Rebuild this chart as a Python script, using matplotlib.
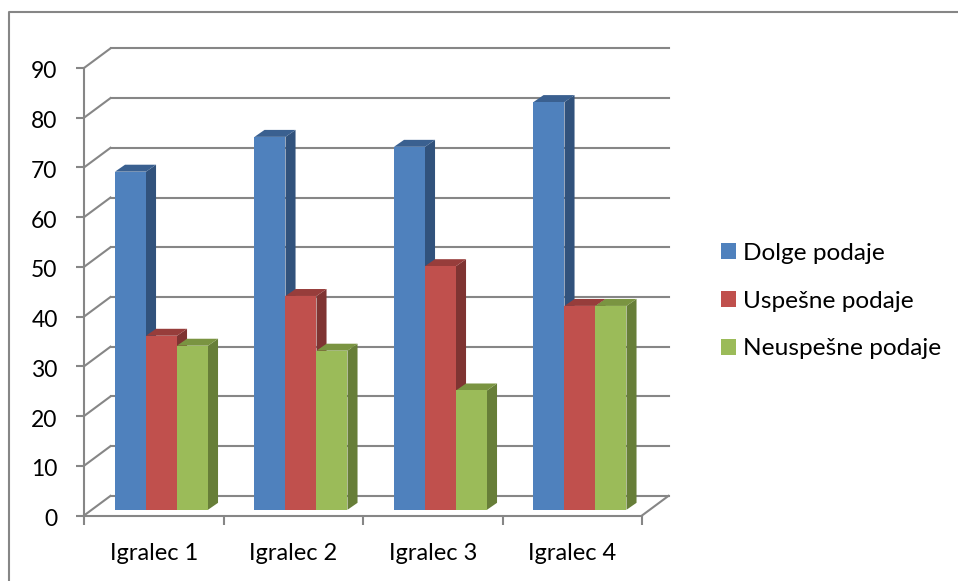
"""3D style clustered columns with a legend on the right"""

import matplotlib
matplotlib.use('Agg')
import matplotlib.pyplot as plt
import matplotlib.transforms as mtransforms
import numpy as np
from matplotlib.patches import Patch, Polygon

plt.rcParams['font.family'] = ['Lato', 'DejaVu Sans']

categories = ['Igralec 1', 'Igralec 2', 'Igralec 3', 'Igralec 4']
series_names = ['Dolge podaje', 'Uspešne podaje', 'Neuspešne podaje']
dolge = [68, 75, 73, 82]
uspesne = [35, 43, 49, 41]
neuspesne = [33, 32, 24, 41]
y_ticks = [0, 10, 20, 30, 40, 50, 60, 70, 80, 90]

front_colors = ['#4F81BD', '#C0504D', '#9BBB59']
side_colors = ['#31527C', '#7F3432', '#677E38']
top_colors = ['#3A6090', '#973D3B', '#7A9441']
grid_color = '#868686'
W, H = 958, 581

# Projection offsets, in data units
wall_dx = 0.19
wall_dy = 3.95
bar_dx = 0.072
bar_dy = 1.4
bar_lift = 1.15
bar_w = 0.2222
bar_start = 0.2222

fig = plt.figure(figsize=(W / 100, H / 100), dpi=100)
ax = fig.add_axes([84 / W, (H - 515.5) / H, 558 / W, 447.5 / H])
ax.set_xlim(0, 4)
ax.set_ylim(0, 90)
ax.patch.set_visible(False)

# Chart frame, cropped by the image on the right and at the bottom
fig.add_artist(plt.Line2D([9 / W, 9 / W, 1], [0, (H - 12) / H, (H - 12) / H],
                          color=grid_color, lw=1.5))

# Walls
for v in y_ticks:
    ax.plot([wall_dx, 4 + wall_dx], [v + wall_dy, v + wall_dy], c=grid_color, lw=1.5,
            clip_on=False, zorder=1)
    ax.plot([0, wall_dx], [v, v + wall_dy], c=grid_color, lw=1.5, clip_on=False, zorder=1)
ax.plot([4, 4 + wall_dx], [0, wall_dy], c=grid_color, lw=1.5, clip_on=False, zorder=1)

# Columns
for j, values in enumerate([dolge, uspesne, neuspesne]):
    lefts = np.arange(len(categories)) + bar_start + j * bar_w
    for x, v in zip(lefts, values):
        top = v + bar_lift
        side = [(x + bar_w, bar_lift), (x + bar_w + bar_dx, bar_lift + bar_dy),
                (x + bar_w + bar_dx, top + bar_dy), (x + bar_w, top)]
        roof = [(x, top), (x + bar_dx, top + bar_dy),
                (x + bar_w + bar_dx, top + bar_dy), (x + bar_w, top)]
        ax.add_patch(Polygon(side, fc=side_colors[j], ec='none', zorder=2 + j, clip_on=False))
        ax.add_patch(Polygon(roof, fc=top_colors[j], ec='none', zorder=2 + j, clip_on=False))
    ax.bar(lefts, values, width=bar_w, bottom=bar_lift, align='edge', color=front_colors[j],
           zorder=2 + j, clip_on=False)

# Axes
for name in ['top', 'right']:
    ax.spines[name].set_visible(False)
for name in ['left', 'bottom']:
    ax.spines[name].set_color(grid_color)
    ax.spines[name].set_linewidth(1.5)
    ax.spines[name].set_zorder(1.5)

ax.set_yticks(y_ticks)
ax.tick_params(axis='y', length=6, width=1.5, color=grid_color, pad=13, labelsize=16.5,
               labelcolor='black')
ax.set_xticks(np.arange(len(categories) + 1))
ax.set_xticklabels([])
ax.set_xticks(np.arange(len(categories)) + 0.5, categories, minor=True)
ax.tick_params(axis='x', which='major', length=6.5, width=1.5, color=grid_color)
ax.tick_params(axis='x', which='minor', length=0, pad=19.5, labelsize=17, labelcolor='black')

# The value labels sit a little below their ticks
shift = mtransforms.ScaledTranslation(0, -2 / 100, fig.dpi_scale_trans)
for label in ax.get_yticklabels():
    label.set_transform(label.get_transform() + shift)

handles = [Patch(fc=c, ec='none', label=n) for c, n in zip(front_colors, series_names)]
fig.legend(handles=handles, loc='center left', bbox_to_anchor=(721 / W, (H - 301) / H),
           frameon=False, fontsize=17.6, handlelength=0.62, handleheight=0.62,
           handletextpad=0.29, labelspacing=1.1, borderpad=0, borderaxespad=0)

fig.savefig('out.png', dpi=100)
